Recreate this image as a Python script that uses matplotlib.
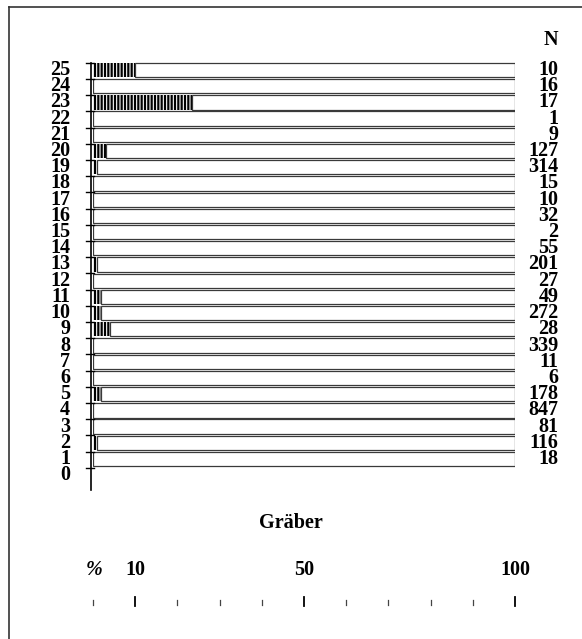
import matplotlib
matplotlib.use("Agg")
import matplotlib.pyplot as plt
from matplotlib.lines import Line2D

# Rows (Gräberfelder) 1..25, share of graves in % and number of graves N
rows = list(range(1, 26))
pct = [0, 1, 0, 0, 2, 0, 0, 0, 4, 2, 2, 0, 1, 0, 0, 0, 0, 0, 1, 3, 0, 0, 23.5, 0, 10]
n_graves = [18, 116, 81, 847, 178, 6, 11, 339, 28, 272, 49, 27, 201, 55, 2, 32, 10, 15,
            314, 127, 9, 1, 17, 16, 10]
row_labels = [str(i) for i in range(0, 26)]
scale_ticks = [0, 10, 20, 30, 40, 50, 60, 70, 80, 90, 100]
scale_labels = {10: "10", 50: "50", 100: "100"}

plt.rcParams["hatch.linewidth"] = 1.6
FONT = dict(family="Liberation Serif", weight="bold", size=14.5)

W, H = 582, 639
fig = plt.figure(figsize=(W / 100, H / 100), dpi=100)
fig.patch.set_facecolor("white")

# axes: x in percent, y in row units (row k centred at y=k)
x0_px, x1_px = 93, 515
row_px = 16.21
y1_center_px = 459
ytop = 1 + (y1_center_px - 0) / row_px
ybot = 1 + (y1_center_px - H) / row_px
ax = fig.add_axes([x0_px / W, 0, (x1_px - x0_px) / W, 1])
ax.set_xlim(0, 100)
ax.set_ylim(ybot, ytop)
ax.axis("off")

bar_h = 0.88
rest = [100 - p for p in pct]
# hatched share
ax.barh(rows, pct, height=bar_h, left=0, color="white", edgecolor="black",
        linewidth=0, hatch="|||||")
# remaining open part of each bar
ax.barh(rows, rest, height=bar_h, left=pct, color="white", edgecolor="#3a3a3a",
        linewidth=0.9)

# vertical axis with ticks at the top of each row
ax_x = -0.5
ax.add_line(Line2D([ax_x, ax_x], [25.45, -0.9], color="black", lw=1.2, clip_on=False))
for k in range(0, 26):
    yk = k + 0.45
    ax.add_line(Line2D([-1.6, 0.3], [yk, yk], color="black", lw=1.0, clip_on=False))

for k, lab in enumerate(row_labels):
    ax.text(-5.4, k, lab, ha="right", va="center", clip_on=False, **FONT)

# N column
ax.text(110.3, 26.85, "N", ha="right", va="center", clip_on=False, **FONT)
for r, nv in zip(rows, n_graves):
    ax.text(110.3, r, str(nv), ha="right", va="center", clip_on=False, **FONT)

# caption and percentage scale
ax.text(47, -2.95, "Gräber", ha="center", va="center", clip_on=False, **FONT)
ax.text(0.2, -5.85, "%", ha="center", va="center", clip_on=False,
        family="Liberation Serif", style="italic", weight="bold", size=14.5)
for t, lab in scale_labels.items():
    ax.text(t, -5.85, lab, ha="center", va="center", clip_on=False, **FONT)
for t in scale_ticks:
    if t in scale_labels:
        ax.add_line(Line2D([t, t], [-7.5, -8.07], color="black", lw=1.3, clip_on=False))
    else:
        ax.add_line(Line2D([t, t], [-7.7, -8.01], color="#444444", lw=0.9, clip_on=False))

# frame lines on the left and top
fig.add_artist(Line2D([9 / W, 9 / W], [0, 1 - 7 / H], color="#333333", lw=1.2,
                      transform=fig.transFigure))
fig.add_artist(Line2D([9 / W, 1], [1 - 7 / H, 1 - 7 / H], color="#333333", lw=1.2,
                      transform=fig.transFigure))

fig.savefig("out.png", dpi=100, facecolor="white")
